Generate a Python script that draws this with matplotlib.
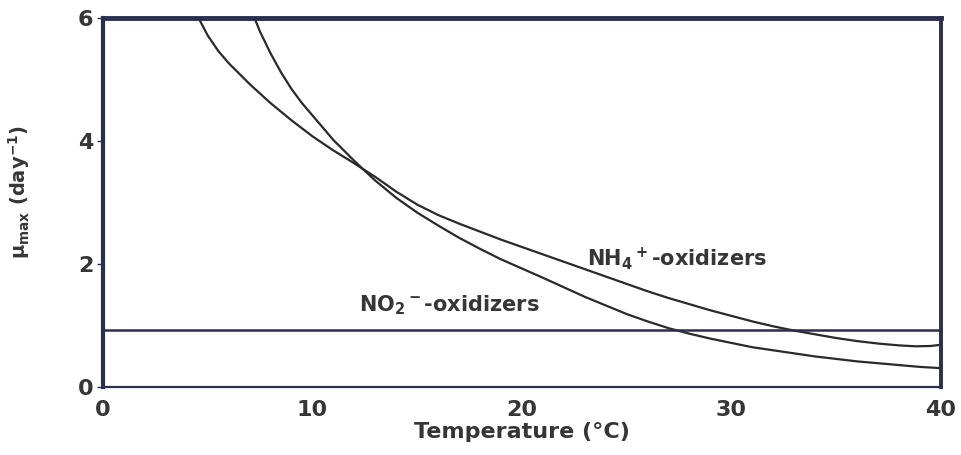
import matplotlib.pyplot as plt

# temperature (°C) vs maximum specific growth rate (day^-1)
# NH4+ oxidizers: enters at 4.6 °C, ends highest at 40 °C
temp_nh4 = [4.57, 5.0, 5.5, 6, 7, 8, 9, 10, 11, 12, 12.4, 13, 14, 15, 16, 17, 18,
            19, 20, 21, 22, 23, 24, 25, 26, 27, 28, 29, 30, 31, 32, 33, 34, 35,
            36, 37, 38, 38.8, 39.5, 40]
mu_nh4 = [6.0, 5.72, 5.47, 5.27, 4.93, 4.62, 4.34, 4.08, 3.85, 3.64, 3.55, 3.42,
          3.18, 2.97, 2.8, 2.66, 2.53, 2.4, 2.28, 2.16, 2.04, 1.92, 1.8, 1.68,
          1.56, 1.45, 1.35, 1.25, 1.16, 1.07, 0.99, 0.92, 0.86, 0.8, 0.75, 0.71,
          0.68, 0.665, 0.67, 0.69]

# second curve: enters at 7.2 °C, steeper, ends lowest
temp_no2 = [7.24, 7.5, 8, 8.5, 9, 9.5, 10, 11, 12, 12.4, 13, 14, 15, 16, 17, 18,
            19, 20, 21, 22, 23, 24, 25, 26, 27, 28, 29, 30, 31, 32, 33, 34, 35,
            36, 37, 38, 39, 40]
mu_no2 = [6.0, 5.78, 5.43, 5.12, 4.85, 4.62, 4.42, 4.02, 3.68, 3.55, 3.36, 3.08,
          2.84, 2.63, 2.43, 2.25, 2.08, 1.93, 1.78, 1.625, 1.47, 1.33, 1.19, 1.07,
          0.96, 0.87, 0.79, 0.72, 0.65, 0.6, 0.55, 0.5, 0.46, 0.42, 0.39, 0.36,
          0.33, 0.31]

mu_level = 0.93

x_ticks = [0, 10, 20, 30, 40]
y_ticks = [0, 2, 4, 6]

plt.rcParams['mathtext.default'] = 'bf'
frame = '#2b2f4e'
ink = '#2a2a2a'
txt = '#363636'

fig = plt.figure(figsize=(9.62, 4.55), dpi=100)
ax = fig.add_axes([0.107, 0.149, 0.871, 0.811])

ax.plot(temp_nh4, mu_nh4, color=ink, lw=1.6)
ax.plot(temp_no2, mu_no2, color=ink, lw=1.6)
ax.axhline(mu_level, color=frame, lw=1.8)

ax.set_xlim(0, 40)
ax.set_ylim(0, 6)
ax.set_xticks(x_ticks)
ax.set_yticks(y_ticks)
ax.tick_params(axis='x', length=0, pad=9, labelsize=16, labelcolor=txt)
ax.tick_params(axis='y', length=4, width=1, direction='out', pad=3,
               labelsize=16, labelcolor=txt, color=frame)
for lab in ax.get_xticklabels() + ax.get_yticklabels():
    lab.set_fontweight('bold')

ax.spines['top'].set_linewidth(3.5)
ax.spines['left'].set_linewidth(3.0)
ax.spines['right'].set_linewidth(2.8)
ax.spines['bottom'].set_linewidth(1.6)
for sp in ax.spines.values():
    sp.set_color(frame)

ax.text(23.1, 2.1, r'NH$_4$$^+$-oxidizers', fontsize=15, fontweight='bold',
        color=txt, va='center')
ax.text(12.24, 1.33, r'NO$_2$$^-$-oxidizers', fontsize=15, fontweight='bold',
        color=txt, va='center')

ax.set_xlabel('Temperature (°C)', fontsize=16, fontweight='bold', color=txt,
              labelpad=2)
ax.set_ylabel(r'$\mu_{max}$ (day$^{-1}$)', fontsize=14, fontweight='bold',
              color=txt)
ax.yaxis.set_label_coords(-0.085, 0.53)

fig.savefig('out.png', dpi=100, facecolor='white')
